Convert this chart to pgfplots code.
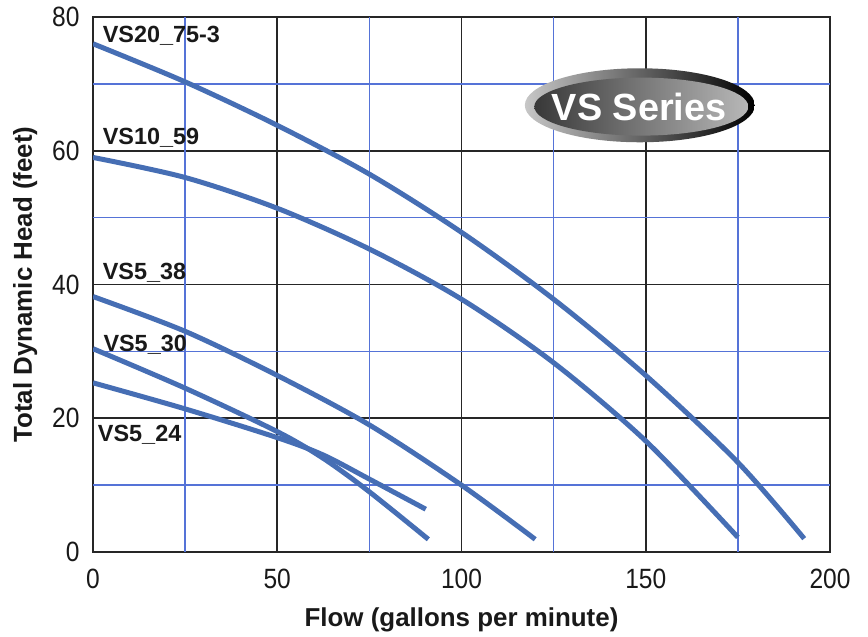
\documentclass[border=0pt]{standalone}
\usepackage{pgfplots}
\pgfplotsset{compat=1.18}
\usepackage{fontspec}
\setmainfont{Liberation Sans}
\newfontfamily\tickfont[FakeStretch=0.88]{Liberation Sans}
\usetikzlibrary{shapes.geometric}
\definecolor{curve}{RGB}{70,110,180}
\definecolor{gridblue}{RGB}{85,115,215}
\begin{document}
\begin{tikzpicture}
\begin{axis}[
 at={(93bp,85bp)}, anchor=south west,
 scale only axis, width=737bp, height=535bp,
 xmin=0,xmax=200,ymin=0,ymax=80,
 xtick={0,50,...,200}, ytick={0,20,...,80},
 extra x ticks={25,75,125,175}, extra y ticks={10,30,50,70},
 extra x tick labels={}, extra y tick labels={},
 extra tick style={grid=major, major grid style={draw=gridblue, line width=1.5bp}},
 grid=major,
 major grid style={draw=black!85, line width=1.6bp},
 axis line style={black!85, line width=2.2bp},
 major tick length=0pt, minor tick length=0pt,
 /pgf/number format/assume math mode=true,
 ticklabel style={font=\tickfont\fontsize{28}{30}\selectfont, text=black!90},
 xticklabel style={yshift=-14bp},
 yticklabel style={xshift=-10bp},
 xlabel={Flow (gallons per minute)},
 ylabel={Total Dynamic Head (feet)},
 label style={font=\bfseries\fontsize{26}{28}\selectfont, text=black!90},
 xlabel style={yshift=-12bp},
 ylabel style={yshift=8bp},
 clip=true,
]
\addplot[curve, line width=5bp, smooth] coordinates {(0,76) (25,70.3) (50,63.8) (75,56.5) (100,47.8) (125,37.8) (150,26.4) (175,13.4) (193,2)};
\addplot[curve, line width=5bp, smooth] coordinates {(0,59) (25,56) (50,51.4) (75,45.3) (100,37.8) (125,28.3) (150,16.6) (175,2.2)};
\addplot[curve, line width=5bp, smooth] coordinates {(0,38.2) (25,33) (50,26.4) (75,19) (100,10) (120,1.9)};
\addplot[curve, line width=5bp, smooth] coordinates {(0,30.4) (25,24.5) (50,18.0) (62.5,14.0) (75,9.0) (91,1.9)};
\addplot[curve, line width=5bp, smooth] coordinates {(0,25.3) (25,21.4) (50,17.1) (62.5,14.5) (75,10.9) (90.3,6.4)};
\begin{scope}[every node/.style={anchor=west, inner sep=0pt, font=\bfseries\fontsize{23.5}{25}\selectfont, text=black!90}]
\node at (axis cs:2.6,77.2) {VS20\_75-3};
\node at (axis cs:2.6,62.0) {VS10\_59};
\node at (axis cs:2.6,41.8) {VS5\_38};
\node at (axis cs:2.8,31.0) {VS5\_30};
\node at (axis cs:1.3,17.5) {VS5\_24};
\end{scope}
\node[ellipse, minimum width=230bp, minimum height=74bp, inner sep=0pt, left color=black!22, right color=black] at (axis cs:148.4,66.8) {};
\node[ellipse, minimum width=214bp, minimum height=58bp, inner sep=0pt, left color=black!78, right color=black!28] at (axis cs:148.8,66.6) {};
\node[text=white, font=\bfseries\fontsize{38}{40}\selectfont, inner sep=0pt] at (axis cs:148.2,66.6) {VS Series};
\end{axis}
\pgfresetboundingbox
\path (0,0) rectangle (868bp,637bp);
\end{tikzpicture}
\end{document}
